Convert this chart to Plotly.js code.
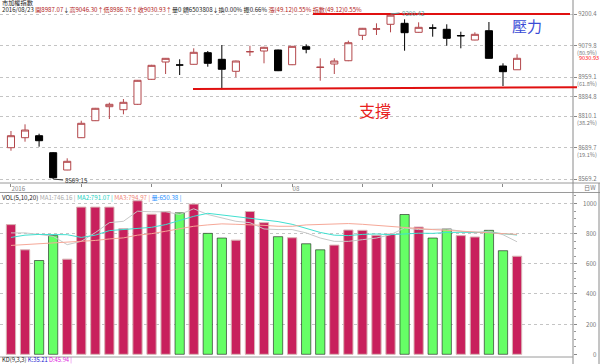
<!DOCTYPE html>
<html><head><meta charset="utf-8">
<script src="https://cdn.plot.ly/plotly-3.0.1.min.js"></script>
<style>html,body{margin:0;padding:0;background:#fff}#c{width:600px;height:364px}</style>
</head><body><div id="c"></div>
<script>
// ---------- DATA ----------
const dates = ["2016-07-04","2016-07-05","2016-07-06","2016-07-07","2016-07-08",
"2016-07-11","2016-07-12","2016-07-13","2016-07-14","2016-07-15",
"2016-07-18","2016-07-19","2016-07-20","2016-07-21","2016-07-22",
"2016-07-25","2016-07-26","2016-07-27","2016-07-28","2016-07-29",
"2016-08-01","2016-08-02","2016-08-03","2016-08-04","2016-08-05",
"2016-08-08","2016-08-09","2016-08-10","2016-08-11","2016-08-12",
"2016-08-15","2016-08-16","2016-08-17","2016-08-18","2016-08-19",
"2016-08-22","2016-08-23"];
const openP  = [8688.9,8727.2,8734.8,8669.8,8603.6,8727.2,8792.2,8845.8,8834.3,8855.0,8950.6,9016.8,9005.3,9008.0,9052.4,9027.1,8981.2,9056.2,9058.9,9062.7,9006.4,9075.3,8996.0,9009.1,9021.7,9118.9,9142.5,9161.0,9164.8,9130.4,9146.8,9141.9,9118.0,9100.9,9136.5,9001.5,8987.07];
const highP  = [8752.8,8778.4,8742.5,8672.0,8648.4,8792.2,8841.0,8861.1,8875.2,8948.0,9006.0,9032.0,9027.1,9069.2,9058.9,9081.8,9022.0,9079.1,9075.0,9064.0,9078.0,9084.5,9030.9,9030.9,9098.3,9147.0,9164.8,9200.42,9180.1,9168.6,9161.0,9161.0,9132.7,9130.4,9169.8,9011.8,9046.30];
const lowP   = [8677.4,8711.9,8692.8,8569.15,8603.0,8726.0,8791.0,8798.7,8816.7,8853.0,8949.0,8970.9,8967.0,9007.0,8998.8,8912.3,8958.2,9039.7,9011.8,8982.0,9005.0,9050.1,8945.2,8970.9,9020.0,9100.9,9120.1,9130.4,9060.0,9129.0,9113.6,9079.1,9069.2,9100.0,9030.0,8925.0,8986.76];
const closeP = [8734.8,8756.6,8715.7,8574.2,8636.9,8782.3,8839.7,8855.0,8862.6,8946.8,9004.1,9030.9,9005.3,9053.9,9011.8,8988.9,9020.6,9056.2,9073.0,8983.5,9076.8,9065.4,8997.0,9020.6,9090.6,9145.7,9143.5,9196.0,9128.9,9149.5,9146.8,9107.4,9117.0,9122.7,9030.9,8979.7,9030.93];

const volume = [860,693,622,787,631,976,976,976,833,1018,929,947,938,996,802,771,757,947,873,780,773,733,693,724,824,822,789,798,927,844,771,831,787,778,822,687,650.38];
const volDir = ["u","u","d","d","u","u","u","u","u","u","u","u","d","u","d","d","u","u","u","d","u","d","d","u","u","u","u","u","d","u","d","d","u","u","d","d","u"];
const volMA5  = [805,805,795,782,727,749,807,873,882,949,945,945,927,965,927,905,882,873,831,827,827,805,771,749,749,760,771,793,838,827,827,831,816,805,816,793,746.16];
const volMA10 = [775,790,795,793,793,775,790,820,827,833,842,860,890,915,935,925,910,900,894,880,862,835,808,790,787,795,798,793,798,803,802,808,809,809,809,800,791.07];
const volMA20 = [722,727,732,738,742,749,755,765,772,790,800,816,830,849,858,865,862,860,855,849,849,858,862,866,867,862,854,846,838,833,827,822,816,810,805,800,794.97];

const priceTicks   = [9200.4, 9079.8, 8959.1, 8884.8, 8810.1, 8689.7, 8569.2];
const priceTickTxt = ["9200.4","9079.8","8959.1","8884.8","8810.1","8689.7","8569.2"];
const fibLevels    = [9079.8, 8959.1, 8810.1, 8689.7];
const fibPct       = ["(80.9%)","(61.8%)","(38.2%)","(19.1%)"];
const volTicks     = [0, 200, 400, 600, 800, 1000];
const xTickVals = ["2016-07-04","2016-07-11","2016-07-18","2016-07-25","2016-08-01","2016-08-08","2016-08-15","2016-08-22"];
const xTickTxt  = ["2016","","","","08","","",""];
const resistance = 9200.4;
const support = [8913.5, 8920.0];
const maxLabel = "9200.42", minLabel = "8569.15";

// ---------- LAYOUT HELPERS ----------
const W = 600, H = 364, PW = 573;
const px = v => v / PW;
const py = v => (H - v) / H;
const F = "Noto Sans CJK TC, Noto Sans, sans-serif";
const UP = "#b3474b", RED_BAR = "#c8205c", GREEN_BAR = "#66ff66";
const FS = 6.2;

const traces = [
  {type:"candlestick", x:dates, open:openP, high:highP, low:lowP, close:closeP,
   xaxis:"x", yaxis:"y", whiskerwidth:0,
   increasing:{line:{color:UP,width:1}, fillcolor:"#ffffff"},
   decreasing:{line:{color:"#000000",width:1}, fillcolor:"#000000"},
   hoverinfo:"skip", showlegend:false},
  {type:"bar", x:dates, y:volume, xaxis:"x2", yaxis:"y2", width:0.66,
   marker:{color:volDir.map(d=>d==="u"?RED_BAR:GREEN_BAR),
           line:{color:volDir.map(d=>d==="u"?"#d8b4b4":"#1a1a1a"), width:volDir.map(d=>d==="u"?1:0.6)}},
   hoverinfo:"skip", showlegend:false},
  {type:"scatter", mode:"lines", x:dates, y:volMA5, xaxis:"x2", yaxis:"y2",
   line:{color:"#c8c8c8", width:1}, hoverinfo:"skip", showlegend:false},
  {type:"scatter", mode:"lines", x:dates, y:volMA10, xaxis:"x2", yaxis:"y2",
   line:{color:"#40e0d0", width:1}, hoverinfo:"skip", showlegend:false},
  {type:"scatter", mode:"lines", x:dates, y:volMA20, xaxis:"x2", yaxis:"y2",
   line:{color:"#f6a898", width:1}, hoverinfo:"skip", showlegend:false}
];

const xr = [-0.78, dates.length - 1 + 3.98];
const annotations = [];
// header
annotations.push({xref:"paper", yref:"paper", x:0, y:py(2.5), xanchor:"left", yanchor:"middle",
  text:"市加權指數", showarrow:false, font:{family:F, size:FS, color:"#222"}});
const r = s => '<span style="color:#b22222">'+s+'</span>';
annotations.push({xref:"paper", yref:"paper", x:0, y:py(9.5), xanchor:"left", yanchor:"middle", showarrow:false,
  font:{family:F, size:6.1, color:"#222"},
  text:"2016/08/23 "+r("開"+openP[36].toFixed(2))+"↓"+r("高"+highP[36].toFixed(2)+"↑低"+lowP[36].toFixed(2)+"↑收"+closeP[36].toFixed(2)+"↑")+
       "量0 額6503808↓換0.00% 振0.66% "+r("漲(49.12)0.55%")+" "+r("指數(49.12)0.55%")});
// right axis extra labels
fibLevels.forEach((v,i)=>annotations.push({xref:"paper", yref:"y", x:px(575), y:v, yshift:-7,
  xanchor:"left", yanchor:"middle", showarrow:false, text:fibPct[i], font:{family:F,size:5.6,color:"#777"}}));
annotations.push({xref:"paper", yref:"y", x:px(577), y:closeP[36], xanchor:"left", yanchor:"middle",
  showarrow:false, text:closeP[36].toFixed(2), font:{family:F,size:5.6,color:"#ff2020"}});
annotations.push({xref:"paper", yref:"paper", x:px(598), y:py(188), xanchor:"right", yanchor:"middle",
  showarrow:false, text:"日W", font:{family:F,size:FS,color:"#777"}});
volTicks.forEach(v=>annotations.push({xref:"paper", yref:"y2", x:px(598.5), y:v, xanchor:"right", yanchor:"middle",
  showarrow:false, text:String(v), font:{family:F,size:FS,color:"#777"}}));
// max / min labels
annotations.push({xref:"x", yref:"y", x:dates[3], y:lowP[3], ax:10, ay:1, xanchor:"left", yanchor:"middle",
  showarrow:true, arrowhead:0, arrowwidth:1, arrowcolor:"#333", standoff:0,
  text:minLabel, font:{family:F,size:FS,color:"#333"}});
annotations.push({xref:"x", yref:"y", x:dates[27], y:highP[27], ax:9, ay:-1, xanchor:"left", yanchor:"middle",
  showarrow:true, arrowhead:0, arrowwidth:1, arrowcolor:"#5f9a9a", standoff:0,
  text:maxLabel, font:{family:F,size:FS,color:"#5f9a9a"}});
// 壓力 / 支撐
annotations.push({xref:"paper", yref:"paper", x:px(527), y:py(26), xanchor:"center", yanchor:"middle",
  showarrow:false, text:"壓力", font:{family:F,size:15,color:"#3a4cd6"}});
annotations.push({xref:"paper", yref:"paper", x:px(375), y:py(110), xanchor:"center", yanchor:"middle",
  showarrow:false, text:"支撐", font:{family:F,size:16,color:"#e82020"}});
// volume header
const c = (s,col) => '<span style="color:'+col+'">'+s+'</span>';
annotations.push({xref:"paper", yref:"paper", x:0, y:py(197), xanchor:"left", yanchor:"middle", showarrow:false,
  font:{family:F,size:FS,color:"#222"},
  text:"VOL(5,10,20) "+c("MA1:"+volMA5[36].toFixed(2)+" |","#aaaaaa")+" "+c("MA2:"+volMA10[36].toFixed(2)+" |","#20d0c0")+" "+
       c("MA3:"+volMA20[36].toFixed(2)+" |","#f08878")+" "+c("量:"+volume[36].toFixed(2)+" |","#1e90ff")});
annotations.push({xref:"paper", yref:"paper", x:0, y:py(359.6), xanchor:"left", yanchor:"middle", showarrow:false,
  font:{family:F,size:5.8,color:"#222"},
  text:"KD(9,3,3) "+c("K:35.21","#2020d0")+" "+c("D:45.94 |","#e020e0")});

const L = (x0,y0,x1,y1,col,w) => ({type:"line", xref:"paper", yref:"paper", x0:px(x0), y0:py(y0), x1:px(x1), y1:py(y1), line:{color:col,width:w}});
const shapes = [
  L(0,183,600,183,"#9a9a9a",1),
  L(0,192.5,600,192.5,"#9a9a9a",1),
  L(573,0,573,364,"#8a8a8a",1),
  L(599,183,599,364,"#8a8a8a",1),
  L(0,357,573,357,"#9a9a9a",1),
  {type:"line", xref:"paper", yref:"y", x0:px(313), x1:px(570), y0:resistance, y1:resistance, line:{color:"#e01010",width:2}},
  {type:"line", xref:"paper", yref:"y", x0:px(193), x1:px(577), y0:support[0], y1:support[1], line:{color:"#e01010",width:2}}
];

const layout = {
  width:W, height:H, margin:{l:0,r:W-PW,t:0,b:0}, paper_bgcolor:"#fff", plot_bgcolor:"#fff",
  showlegend:false, hovermode:false, boxgap:0.28,
  xaxis:{domain:[0,1], anchor:"y", type:"category", range:xr, rangeslider:{visible:false},
    tickvals:xTickVals, ticktext:xTickTxt, ticks:"outside", ticklen:3, tickcolor:"#888",
    ticklabelposition:"outside right", tickfont:{family:F,size:FS,color:"#888"},
    showgrid:false, showline:false, zeroline:false},
  xaxis2:{domain:[0,1], anchor:"y2", type:"category", range:xr, showticklabels:false, ticks:"",
    showgrid:false, showline:false, zeroline:false},
  yaxis:{domain:[py(183),1], range:[8553.9, 9254.0], side:"right", tickvals:priceTicks, ticktext:priceTickTxt,
    ticks:"outside", ticklen:3, tickcolor:"#888", tickfont:{family:F,size:6,color:"#777"},
    showgrid:true, gridcolor:"#c4c4c4", griddash:"dot", gridwidth:1, zeroline:false, showline:false},
  yaxis2:{domain:[py(355),py(193)], range:[-4.6,1069.6], side:"right", tickvals:volTicks, showticklabels:false,
    ticks:"outside", ticklen:3, tickcolor:"#888",
    minor:{dtick:50, ticks:"outside", ticklen:2, tickcolor:"#999", showgrid:false},
    showgrid:true, gridcolor:"#c4c4c4", griddash:"dot", gridwidth:1, zeroline:false, showline:false},
  annotations, shapes
};
Plotly.newPlot("c", traces, layout, {staticPlot:true, displayModeBar:false});
</script></body></html>
